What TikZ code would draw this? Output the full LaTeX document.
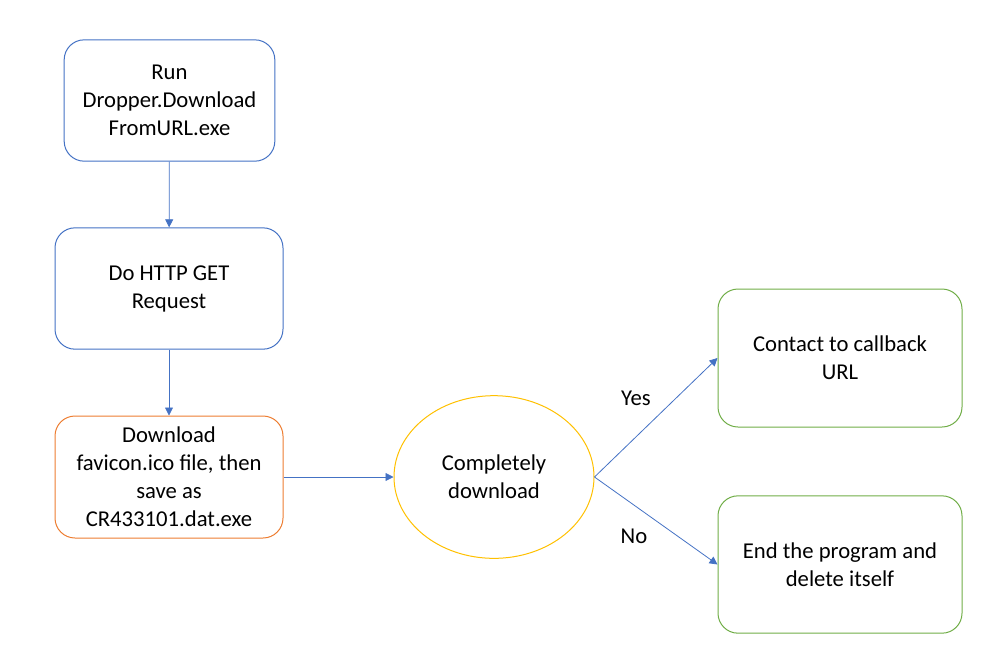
\documentclass[tikz,border=0pt]{standalone}
\usepackage{fontspec}
\setmainfont{Carlito}
\usepackage{xcolor}
\usetikzlibrary{positioning}
\usetikzlibrary{arrows.meta}
\usetikzlibrary{shapes.geometric}

\definecolor{flowblue}{HTML}{4472C4}
\definecolor{flowred}{HTML}{ED7D31}
\definecolor{flowyellow}{HTML}{FFC000}
\definecolor{flowgreen}{HTML}{70AD47}

\tikzset{
  stepbox/.style={draw, rounded corners=15pt, align=center, inner sep=0pt,
    font=\fontsize{17}{21}\selectfont, line width=0.75pt},
  flow/.style={-{Triangle[length=6pt,width=6pt]}, flowblue, line width=0.6pt},
  answer/.style={font=\fontsize{17}{21}\selectfont}
}

\begin{document}
\begin{tikzpicture}[x=0.75pt,y=-0.75pt]
  \useasboundingbox (0,0) rectangle (992,665);
  % left column
  \node[stepbox, flowblue, text=black, minimum width=158pt, minimum height=91pt] (run) at (169.5,100.5) {Run\\Dropper.Download\\FromURL.exe};
  \node[stepbox, flowblue, text=black, minimum width=171pt, minimum height=91pt] (request) at (169,288.5) {Do HTTP GET\\Request};
  \node[stepbox, flowred, text=black, minimum width=171pt, minimum height=91.5pt] (download) at (169,477) {Download\\favicon.ico file, then\\save as\\CR433101.dat.exe};
  % decision
  \node[ellipse, draw=flowyellow, line width=0.75pt, align=center, minimum width=150pt, minimum height=122pt,
    font=\fontsize{17}{21}\selectfont] (complete) at (494,477) {Completely\\download};
  % right column
  \node[stepbox, flowgreen, text=black, minimum width=183pt, minimum height=103.5pt] (callback) at (840,358) {Contact to callback\\URL};
  \node[stepbox, flowgreen, text=black, minimum width=183pt, minimum height=103pt] (finish) at (840,564.5) {End the program and\\delete itself};

  \draw[flow] (run) -- (request);
  \draw[flow] (request) -- (download);
  \draw[flow] (download) -- (complete);
  \draw[flow] (complete.east) -- (callback.west);
  \draw[flow] (complete.east) -- (finish.west);

  \node[answer] (yes) at (636,398) {Yes};
  \node[answer] (no) at (634,536) {No};
\end{tikzpicture}
\end{document}
